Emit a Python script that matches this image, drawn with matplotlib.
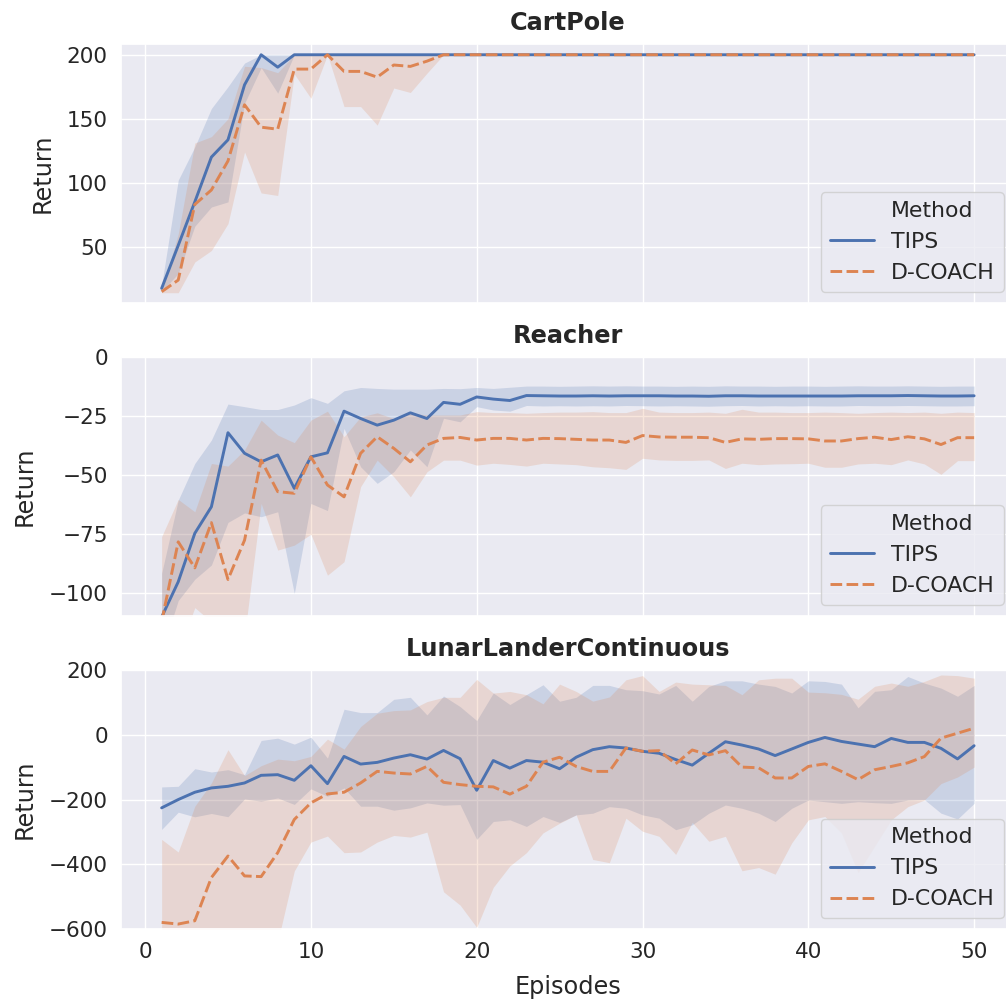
#!/usr/bin/python3

import numpy as np
import matplotlib
matplotlib.use("Agg")
import matplotlib.pyplot as plt
from matplotlib.lines import Line2D
import seaborn as sns

#_____________________________________________________________________________
# data, episodes 1..50

episodes = list(range(1, 51))

# CartPole
cp_tips = [17.4, 51, 85, 120, 133.5, 176.5, 200, 190.3, 200, 200,
           200, 200, 200, 200, 200, 200, 200, 200, 200, 200,
           200, 200, 200, 200, 200, 200, 200, 200, 200, 200,
           200, 200, 200, 200, 200, 200, 200, 200, 200, 200,
           200, 200, 200, 200, 200, 200, 200, 200, 200, 200]
cp_tips_lo = [15, 29, 66, 81, 85, 162, 190, 170, 200, 200,
              200, 200, 200, 200, 200, 200, 200, 200, 200, 200,
              200, 200, 200, 200, 200, 200, 200, 200, 200, 200,
              200, 200, 200, 200, 200, 200, 200, 200, 200, 200,
              200, 200, 200, 200, 200, 200, 200, 200, 200, 200]
cp_tips_hi = [20, 102, 128, 158, 175, 193.5, 200, 200, 200, 200,
              200, 200, 200, 200, 200, 200, 200, 200, 200, 200,
              200, 200, 200, 200, 200, 200, 200, 200, 200, 200,
              200, 200, 200, 200, 200, 200, 200, 200, 200, 200,
              200, 200, 200, 200, 200, 200, 200, 200, 200, 200]
cp_dc = [14.8, 23.9, 83, 94.3, 117, 160.9, 143.4, 141.8, 188.8, 188.8,
         200, 187, 187, 182.5, 192, 190.9, 195, 200, 200, 200,
         200, 200, 200, 200, 200, 200, 200, 200, 200, 200,
         200, 200, 200, 200, 200, 200, 200, 200, 200, 200,
         200, 200, 200, 200, 200, 200, 200, 200, 200, 200]
cp_dc_lo = [14, 14, 38, 47, 68, 124, 92, 90, 185, 166,
            200, 159.5, 159.5, 145, 174, 170.5, 185.6, 200, 200, 200,
            200, 200, 200, 200, 200, 200, 200, 200, 200, 200,
            200, 200, 200, 200, 200, 200, 200, 200, 200, 200,
            200, 200, 200, 200, 200, 200, 200, 200, 200, 200]
cp_dc_hi = [15, 60, 131, 136, 150, 191, 190, 186, 200, 200,
            200, 200, 200, 200, 200, 200, 200, 200, 200, 200,
            200, 200, 200, 200, 200, 200, 200, 200, 200, 200,
            200, 200, 200, 200, 200, 200, 200, 200, 200, 200,
            200, 200, 200, 200, 200, 200, 200, 200, 200, 200]

# Reacher
re_tips = [-110, -95.1, -74.6, -63.4, -32.1, -40.8, -44.4, -41.5, -55.6, -42.3,
           -40.6, -23.0, -26.1, -28.9, -26.8, -23.7, -26.1, -19.3, -20.1, -17.0,
           -17.9, -18.5, -16.4, -16.5, -16.6, -16.6, -16.5, -16.6, -16.5, -16.5,
           -16.5, -16.6, -16.6, -16.7, -16.5, -16.5, -16.6, -16.6, -16.6, -16.6,
           -16.6, -16.6, -16.5, -16.5, -16.5, -16.4, -16.5, -16.6, -16.6, -16.5]
re_tips_lo = [-125, -103, -94, -88, -70, -66, -67.6, -65.5, -100, -62,
              -65, -30.3, -46.5, -53.5, -48.6, -39.4, -46.5, -26, -27.5, -21.1,
              -22.5, -23, -20.6, -20.8, -20.7, -20.8, -20.7, -20.8, -20.6, -20.7,
              -20.8, -20.7, -20.8, -20.9, -20.7, -20.6, -20.8, -20.7, -20.8, -20.7,
              -20.8, -20.8, -20.6, -20.7, -20.7, -20.6, -20.7, -20.8, -20.8, -20.7]
re_tips_hi = [-91.5, -60.6, -45.1, -35.2, -20, -21.1, -22.3, -22.3, -20.4, -17.3,
              -19.7, -14.4, -13, -13.4, -13.7, -13.7, -13.7, -13.4, -13.5, -13,
              -13.4, -12.9, -12.4, -12.4, -12.5, -12.4, -12.3, -12.4, -12.3, -12.4,
              -12.4, -12.5, -12.4, -12.5, -12.3, -12.4, -12.4, -12.5, -12.4, -12.4,
              -12.5, -12.4, -12.3, -12.4, -12.4, -12.3, -12.4, -12.5, -12.4, -12.4]
re_dc = [-112, -78.2, -89.2, -70.1, -94.1, -77.5, -43.7, -57.0, -57.7, -42.3,
         -54.2, -59.2, -40.8, -33.8, -38.7, -44.4, -37.3, -34.5, -34.1, -35.2,
         -34.5, -34.5, -35.2, -34.5, -34.6, -34.9, -35.2, -35.2, -36.2, -33.3,
         -33.9, -34.0, -34.0, -34.2, -36.2, -34.7, -34.9, -34.6, -34.6, -34.7,
         -35.6, -35.6, -34.6, -34.0, -35.0, -33.8, -34.7, -37.1, -34.2, -34.2]
re_dc_lo = [-140, -125, -106, -112, -135, -118, -62, -81.7, -79.6, -75,
            -92.3, -86.6, -54.9, -43.7, -50.7, -59.2, -48.6, -43.7, -43.7, -45.8,
            -45, -45.5, -46.2, -45, -45.3, -45.6, -46.5, -46.9, -47.6, -42.9,
            -43.6, -43.8, -43.8, -43.6, -47.2, -45, -45.6, -45.3, -45.2, -45,
            -46.7, -46.7, -45.3, -45, -45.6, -43.6, -45.3, -49.7, -43.9, -43.9]
re_dc_hi = [-76, -60.3, -65.5, -45.1, -46.2, -39.4, -26.8, -33.1, -36.3, -26.8,
            -23, -33.8, -25.4, -23.7, -26.1, -23.9, -24.6, -24.6, -24.6, -23.2,
            -23.6, -23.6, -23.9, -23.6, -23.4, -23.4, -23.2, -23.6, -23.6, -21.8,
            -23.4, -23.6, -23.6, -23.4, -23.9, -22.2, -23.4, -23.4, -23.6, -23.6,
            -23.4, -23.6, -23.9, -23.6, -23.4, -23.6, -23.4, -23.9, -23.4, -23.6]

# LunarLanderContinuous
ll_tips = [-225.6, -200, -177.4, -164.1, -159, -148.7, -125.1, -123.1, -140.5, -95.4,
           -150.8, -66.7, -90.3, -85.1, -71.8, -61.5, -74.9, -48.2, -73.8, -171.3,
           -79.4, -102.8, -79.4, -84.5, -104.8, -69.2, -45.8, -36.6, -40.7, -50.9,
           -57, -76.3, -93.6, -57, -21.4, -31.6, -43.8, -64.1, -43.8, -23.4,
           -8.1, -20.4, -28.5, -36.6, -11.2, -23.4, -23.4, -41.7, -74.3, -33.6]
ll_tips_lo = [-292.3, -239, -253.3, -243, -253, -198, -205, -195, -215, -167,
              -189.7, -164.1, -220.5, -220.5, -232.8, -225.6, -210.3, -217.4, -215.4, -323,
              -267.7, -262.6, -283, -252.4, -270.7, -247.3, -242.2, -221.9, -227, -247.3,
              -257.5, -293.1, -277.9, -242.2, -216.8, -227, -242.2, -267.7, -227, -201.5,
              -206.6, -211.7, -206.6, -209.7, -211.7, -201.5, -200, -242, -260, -211.7]
ll_tips_hi = [-161, -159, -104.6, -114.9, -107.7, -123.1, -17.4, -10.3, -28.7, -7.2,
              -71.8, 79, 68.7, 68.7, 109.7, 115.9, 61.5, 120, 87.2, 44.1,
              129.3, 93.6, 124.2, 154.7, 103.8, 116, 152.7, 152.7, 139.4, 136.4,
              126.2, 152.7, 103.8, 149.6, 166.9, 166.9, 156.7, 149.6, 129.3, 166.9,
              164.9, 156.7, 83.5, 134.4, 139.4, 180.2, 159.8, 144.5, 119.1, 152.7]
ll_dc = [-579.5, -584.6, -574.4, -441, -374.4, -435.9, -438, -364, -261.5, -210.3,
         -182.6, -177.4, -148.7, -112.8, -118, -121, -97.4, -146.7, -153.8, -159,
         -160.8, -183.2, -158.8, -84.5, -69.2, -97.7, -113, -113, -40.7, -50.9,
         -48.9, -89.6, -46.8, -62.1, -48.9, -99.7, -101.8, -133.3, -133.3, -97.7,
         -89.6, -113, -138.4, -107.9, -97.7, -86.5, -67.2, -10.2, 5.1, 20.4]
ll_dc_lo = [-680, -700, -720, -700, -680, -700, -700, -640, -420.5, -331.3,
            -312.8, -364, -362, -331.3, -310.8, -315.9, -300.5, -485, -526, -594.9,
            -471, -405, -364, -303, -273, -247, -385, -395, -257.5, -298,
            -313.5, -369.5, -270.7, -328.8, -313.5, -420, -410, -430.5, -333.8, -262.6,
            -252.4, -303.3, -425.4, -344, -262.6, -221.9, -201.5, -150.6, -130.3, -99.7]
ll_dc_hi = [-323, -362, -220.5, -148.7, -46, -126, -95.4, -75, -80, -66.7,
            -13.3, -44.1, 25.6, 66.7, 74.9, 77, 102.6, 115.9, 115.9, 171.3,
            129, 134, 124, 95.7, 156.7, 134, 104, 117, 170, 183,
            134, 163, 156.7, 154.7, 152.7, 124, 170, 175, 175, 132,
            130, 125, 110, 150, 160, 150, 165, 185, 183, 175]

methods = ["TIPS", "D-COACH"]
titles = ["CartPole", "Reacher", "LunarLanderContinuous"]

#_____________________________________________________________________________
def main():

    sns.set_theme(style="darkgrid", font_scale=1.4)
    plt.rcParams["axes.titlesize"] = 17.3
    plt.rcParams["axes.labelsize"] = 17.3
    plt.rcParams["xtick.labelsize"] = 15.5
    plt.rcParams["ytick.labelsize"] = 15.5
    plt.rcParams["legend.fontsize"] = 15.8

    pal = sns.color_palette("deep")
    col = {"TIPS": pal[0], "D-COACH": pal[1]}
    dash = {"TIPS": "", "D-COACH": (4, 1.5)}

    panels = [
        (titles[0], [(cp_tips, cp_tips_lo, cp_tips_hi), (cp_dc, cp_dc_lo, cp_dc_hi)],
         (6.2, 208.6), [50, 100, 150, 200]),
        (titles[1], [(re_tips, re_tips_lo, re_tips_hi), (re_dc, re_dc_lo, re_dc_hi)],
         (-109.4, 0), [-100, -75, -50, -25, 0]),
        (titles[2], [(ll_tips, ll_tips_lo, ll_tips_hi), (ll_dc, ll_dc_lo, ll_dc_hi)],
         (-600, 200), [-600, -400, -200, 0, 200]),
    ]

    fig = plt.figure(figsize=(10.06, 10.06), dpi=100)

    bottoms = [0.6991, 0.3880, 0.0765]
    left, width, height = 0.1203, 0.8884, 0.2574

    for i, (title, series, ylim, yticks) in enumerate(panels):
        ax = fig.add_axes([left, bottoms[i], width, height])

        for name, (mean, lo, hi) in zip(methods, series):
            ax.fill_between(episodes, lo, hi, color=col[name], alpha=0.2, lw=0)
            ln, = ax.plot(episodes, mean, color=col[name], lw=2.1, label=name)
            if dash[name]:
                ln.set_dashes(dash[name])

        ax.set_xlim(-1.45, 52.45)
        ax.set_ylim(*ylim)
        ax.set_yticks(yticks)
        ax.set_xticks([0, 10, 20, 30, 40, 50])
        ax.set_title(title, fontweight="bold", pad=10)
        ax.set_ylabel("Return", labelpad=9)

        if i < 2:
            ax.tick_params(labelbottom=False)
        else:
            ax.set_xlabel("Episodes", labelpad=9)

        # seaborn-style legend with the hue name as first row
        handles = [Line2D([], [], color="none")]
        labels = ["Method"]
        for name in methods:
            h = Line2D([], [], color=col[name], lw=2.1)
            if dash[name]:
                h.set_dashes(dash[name])
            handles.append(h)
            labels.append(name)
        ax.legend(handles, labels, loc="lower right")

    fig.savefig("out.png", dpi=100)
    plt.close()

#main

#_____________________________________________________________________________
if __name__ == "__main__":

    main()
